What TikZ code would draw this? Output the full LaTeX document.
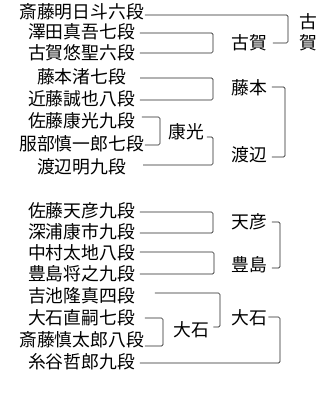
\documentclass[tikz,border=0pt]{standalone}
\usepackage{fontspec}
\newfontfamily\jp{Noto Sans CJK JP}
\begin{document}
\begin{tikzpicture}[x=1pt,y=-1pt,
  nm/.style={inner sep=0pt,outer sep=0pt,font=\jp\fontsize{17.8}{21}\selectfont},
  ln/.style={draw=black!85,line width=0.7pt,rounded corners=1.5pt}]
\useasboundingbox[fill=white] (0,0) rectangle (323,395);
% players
\node[nm] (p1) at (81.5,12) {斎藤明日斗六段};
\node[nm] (p2) at (81.5,32) {澤田真吾七段};
\node[nm] (p3) at (81.5,53) {古賀悠聖六段};
\node[nm] (p4) at (81.5,77) {藤本渚七段};
\node[nm] (p5) at (81.5,99) {近藤誠也八段};
\node[nm] (p6) at (81.5,121) {佐藤康光九段};
\node[nm] (p7) at (81.5,144) {服部慎一郎七段};
\node[nm] (p8) at (81.5,167) {渡辺明九段};
\node[nm] (p9) at (81.5,211) {佐藤天彦九段};
\node[nm] (p10) at (81.5,232) {深浦康市九段};
\node[nm] (p11) at (81.5,253) {中村太地八段};
\node[nm] (p12) at (81.5,274) {豊島将之九段};
\node[nm] (p13) at (81.5,296) {吉池隆真四段};
\node[nm] (p14) at (81.5,318) {大石直嗣七段};
\node[nm] (p15) at (81.5,340) {斎藤慎太郎八段};
\node[nm] (p16) at (81.5,362) {糸谷哲郎九段};
% winners
\node[nm] (w1) at (249,43) {古賀};
\node[nm] (w2) at (249,88) {藤本};
\node[nm] (w3) at (186,132) {康光};
\node[nm] (w4) at (249,155) {渡辺};
\node[nm] (w5) at (249,222) {天彦};
\node[nm] (w6) at (249,265) {豊島};
\node[nm] (w7) at (191.5,330) {大石};
\node[nm] (w8) at (249,318) {大石};
\node[nm,align=center] (w0) at (308,32.5) {古\\賀};
% connectors
\draw[ln] ([xshift=1pt,yshift=-3pt]p1.east) -- (288,15) -- (288,43) -- ([xshift=6pt]w1.east);
\draw[ln] ([xshift=5pt,yshift=-1pt]p2.east) -- (213,33) -- (213,53) -- ([xshift=5pt]p3.east);
\draw[ln] ([xshift=14pt,yshift=-1pt]p4.east) -- (213,78) -- (213,100) -- ([xshift=5pt,yshift=-1pt]p5.east);
\draw[ln] ([xshift=7pt,yshift=4pt]p6.east) -- (160,117) -- (160,145) -- ([xshift=1pt,yshift=-1pt]p7.east);
\draw[ln] ([xshift=3pt,yshift=-5pt]w3.east) -- (213,137) -- (213,165) -- ([xshift=17pt,yshift=2pt]p8.east);
\draw[ln] ([xshift=5pt,yshift=1pt]w2.east) -- (285,87) -- (285,157) -- ([xshift=5pt,yshift=-2pt]w4.east);
\draw[ln] ([xshift=5pt,yshift=-1pt]p9.east) -- (213,212) -- (213,233) -- ([xshift=5pt,yshift=-1pt]p10.east);
\draw[ln] ([xshift=5pt,yshift=1pt]p11.east) -- (214,252) -- (214,274) -- ([xshift=5pt]p12.east);
\draw[ln] ([xshift=5pt]w5.east) -- (280,222) -- (280,268) -- ([xshift=5pt,yshift=-3pt]w6.east);
\draw[ln] ([xshift=20pt,yshift=3pt]p13.east) -- (220,293) -- (220,327) -- ([xshift=4pt,yshift=3pt]w7.east);
\draw[ln] ([xshift=10pt]p14.east) -- (163,318) -- (163,346) -- ([xshift=1pt,yshift=-6pt]p15.east);
\draw[ln] ([xshift=1.5pt,yshift=1pt]w8.east) -- (280,317) -- (280,363) -- ([xshift=5pt,yshift=-1pt]p16.east);
\end{tikzpicture}
\end{document}
